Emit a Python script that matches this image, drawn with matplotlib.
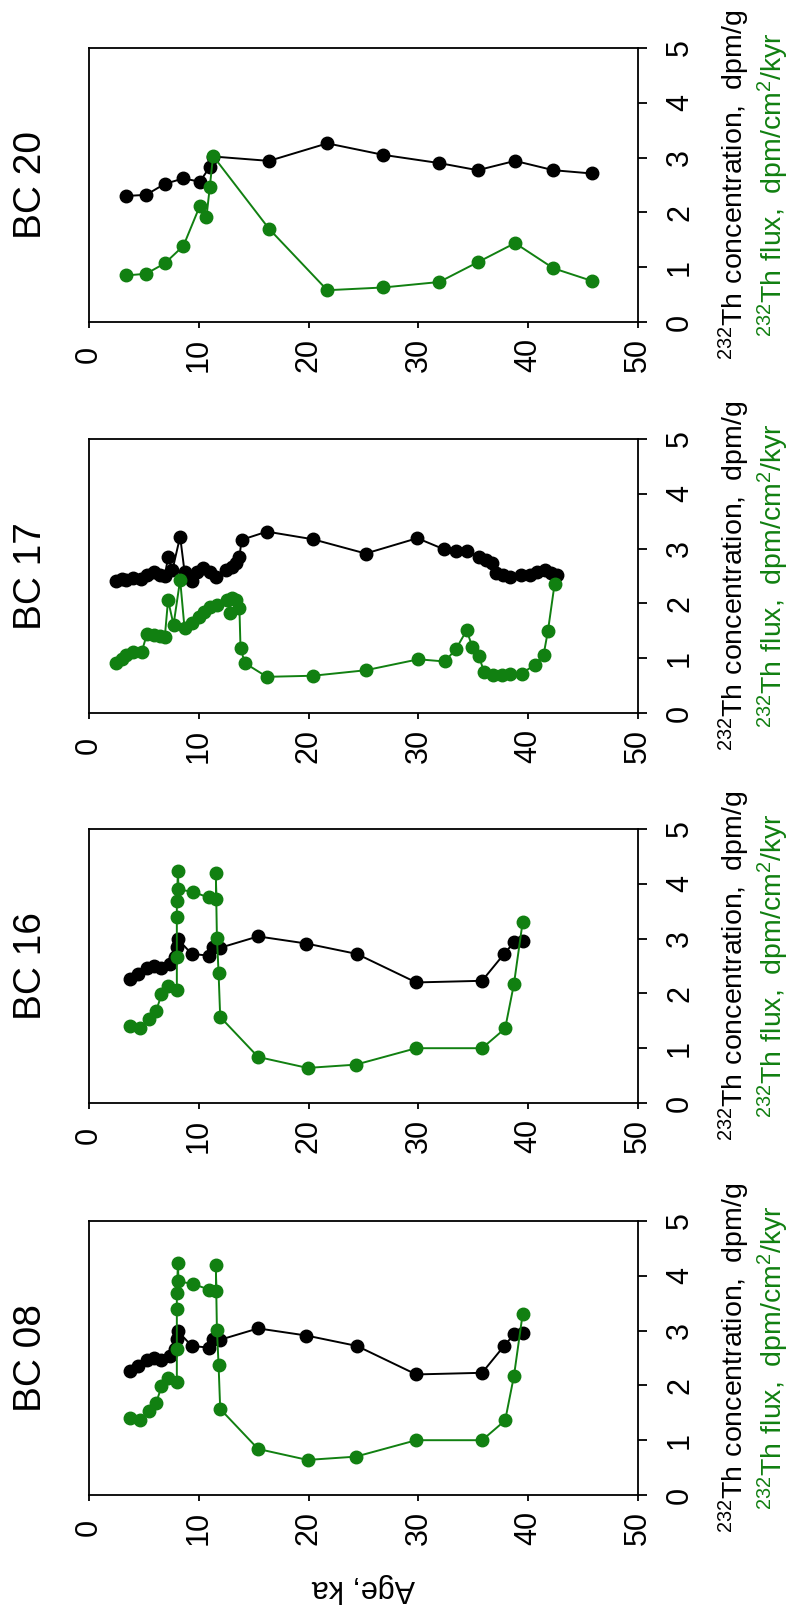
import matplotlib
matplotlib.use("Agg")
import matplotlib.pyplot as plt

plt.rcParams['font.family'] = ['Liberation Sans', 'DejaVu Sans']
plt.rcParams['mathtext.fontset'] = 'custom'
plt.rcParams['mathtext.rm'] = 'Liberation Sans'

GREEN = '#118011'

# BC 20 core
bc20_conc_age = [3.4, 5.2, 6.9, 8.6, 10.1, 11.0, 11.3, 16.4, 21.7, 26.8, 31.9, 35.4, 38.8, 42.3, 45.8]
bc20_conc = [2.30, 2.32, 2.52, 2.62, 2.56, 2.83, 3.02, 2.94, 3.26, 3.05, 2.90, 2.77, 2.94, 2.77, 2.71]
bc20_flux_age = [3.4, 5.2, 6.9, 8.6, 10.1, 10.7, 11.0, 11.3, 16.4, 21.7, 26.8, 31.9, 35.4, 38.8, 42.3, 45.8]
bc20_flux = [0.85, 0.88, 1.07, 1.39, 2.12, 1.92, 2.46, 3.03, 1.70, 0.58, 0.63, 0.73, 1.09, 1.44, 0.98, 0.75]

# BC 17 core
bc17_conc_age = [2.5, 3.0, 3.4, 4.0, 4.7, 5.3, 5.9, 6.5, 6.9, 7.2, 7.6, 8.3, 8.7, 9.4, 9.8, 10.4,
                 11.0, 11.6, 12.5, 13.0, 13.4, 13.7, 13.9, 16.2, 20.4, 25.2, 29.9, 32.3, 33.4, 34.4,
                 35.5, 36.2, 36.7, 37.1, 37.7, 38.3, 39.3, 40.2, 40.8, 41.5, 42.1, 42.6]
bc17_conc = [2.41, 2.44, 2.43, 2.46, 2.44, 2.52, 2.58, 2.52, 2.50, 2.84, 2.61, 3.22, 2.58, 2.40, 2.58, 2.64,
             2.58, 2.48, 2.61, 2.67, 2.73, 2.85, 3.16, 3.31, 3.17, 2.91, 3.19, 2.99, 2.96, 2.96,
             2.85, 2.80, 2.73, 2.55, 2.52, 2.49, 2.52, 2.52, 2.58, 2.61, 2.56, 2.52]
bc17_flux_age = [2.5, 3.0, 3.4, 4.0, 4.8, 5.3, 5.9, 6.5, 6.9, 7.2, 7.7, 8.3, 8.7, 9.4, 10.0, 10.5,
                 11.0, 11.7, 12.6, 12.8, 13.0, 13.4, 13.7, 13.8, 14.2, 16.2, 20.4, 25.2, 30.0, 32.4,
                 33.4, 34.4, 34.9, 35.5, 36.0, 36.8, 37.6, 38.3, 39.4, 40.6, 41.4, 41.8, 42.4]
bc17_flux = [0.92, 0.98, 1.06, 1.12, 1.12, 1.45, 1.42, 1.40, 1.38, 2.06, 1.61, 2.43, 1.55, 1.64, 1.76, 1.85,
             1.94, 1.97, 2.07, 1.82, 2.10, 2.06, 1.91, 1.18, 0.91, 0.66, 0.68, 0.78, 0.98, 0.94,
             1.16, 1.51, 1.21, 1.04, 0.74, 0.69, 0.69, 0.72, 0.72, 0.88, 1.06, 1.50, 2.35]

# BC 08 core
bc08_conc_age = [3.7, 4.5, 5.25, 5.9, 6.6, 7.4, 7.8, 8.0, 8.1, 9.35, 10.9, 11.3, 11.9, 15.4, 19.8,
                 24.4, 29.8, 35.8, 37.8, 38.7, 39.5]
bc08_conc = [2.26, 2.35, 2.47, 2.50, 2.47, 2.53, 2.66, 2.84, 2.99, 2.72, 2.69, 2.84, 2.83, 3.04, 2.91,
             2.72, 2.20, 2.23, 2.72, 2.93, 2.96]
bc08_flux_age = [3.7, 4.6, 5.5, 6.1, 6.6, 7.2, 8.0, 8.0, 8.0, 8.0, 8.1, 8.15, 9.5, 10.9, 11.6, 11.55,
                 11.65, 11.8, 11.95, 15.4, 19.9, 24.3, 29.8, 35.8, 37.9, 38.7, 39.5]
bc08_flux = [1.40, 1.37, 1.53, 1.67, 1.98, 2.14, 2.06, 2.66, 3.39, 3.68, 4.23, 3.90, 3.85, 3.75, 3.72, 4.19,
             3.02, 2.38, 1.57, 0.84, 0.64, 0.70, 1.00, 1.00, 1.36, 2.17, 3.31]

# BC 16 core
bc16_conc_age = list(bc08_conc_age)
bc16_conc = list(bc08_conc)
bc16_flux_age = list(bc08_flux_age)
bc16_flux = list(bc08_flux)

cores = [
    ('BC 20', bc20_conc_age, bc20_conc, bc20_flux_age, bc20_flux),
    ('BC 17', bc17_conc_age, bc17_conc, bc17_flux_age, bc17_flux),
    ('BC 16', bc16_conc_age, bc16_conc, bc16_flux_age, bc16_flux),
    ('BC 08', bc08_conc_age, bc08_conc, bc08_flux_age, bc08_flux),
]

W, H = 793, 1610
fig = plt.figure(figsize=(W / 100, H / 100), dpi=100)

left_px, right_px = 89, 638
bottoms_px = [322, 713, 1103, 1495]
height_px = 274

for (name, ca, cv, fa, fv), bpx in zip(cores, bottoms_px):
    ax = fig.add_axes([left_px / W, 1 - bpx / H, (right_px - left_px) / W, height_px / H])
    ax.plot(ca, cv, '-o', color='black', lw=1.4, ms=9, zorder=3)
    ax.plot(fa, fv, '-o', color=GREEN, lw=1.4, ms=9, zorder=4)
    ax.set_xlim(0, 50)
    ax.set_ylim(0, 5)
    ax.set_xticks([0, 10, 20, 30, 40, 50])
    ax.set_yticks([0, 1, 2, 3, 4, 5])
    for sp in ax.spines.values():
        sp.set_linewidth(1.3)
    ax.tick_params(axis='x', direction='out', length=4.5, width=1.3, labelsize=22, pad=19, rotation=90)
    ax.tick_params(axis='y', direction='out', length=6.5, width=1.3, labelsize=22, pad=13,
                   left=False, labelleft=False, right=True, labelright=True, rotation=90)
    for lab in ax.get_xticklabels():
        lab.set_verticalalignment('center')
    for lab in ax.get_yticklabels():
        lab.set_verticalalignment('center')

    ax.text(-0.105, 0.5, name, transform=ax.transAxes, rotation=90, fontsize=28,
            ha='center', va='center')
    ax.text(1.176, 0.5, r'$\mathregular{^{232}Th\ concentration,\ dpm/g}$', transform=ax.transAxes,
            rotation=90, fontsize=20.5, ha='center', va='center', color='black')
    ax.text(1.247, 0.5, r'$\mathregular{^{232}Th\ flux,\ dpm/cm^2/kyr}$', transform=ax.transAxes,
            rotation=90, fontsize=20.5, ha='center', va='center', color=GREEN)

fig.text(363 / W, 1 - 1588 / H, 'Age, ka', rotation=180, fontsize=22, ha='center', va='center')

fig.savefig('out.png', dpi=100)
